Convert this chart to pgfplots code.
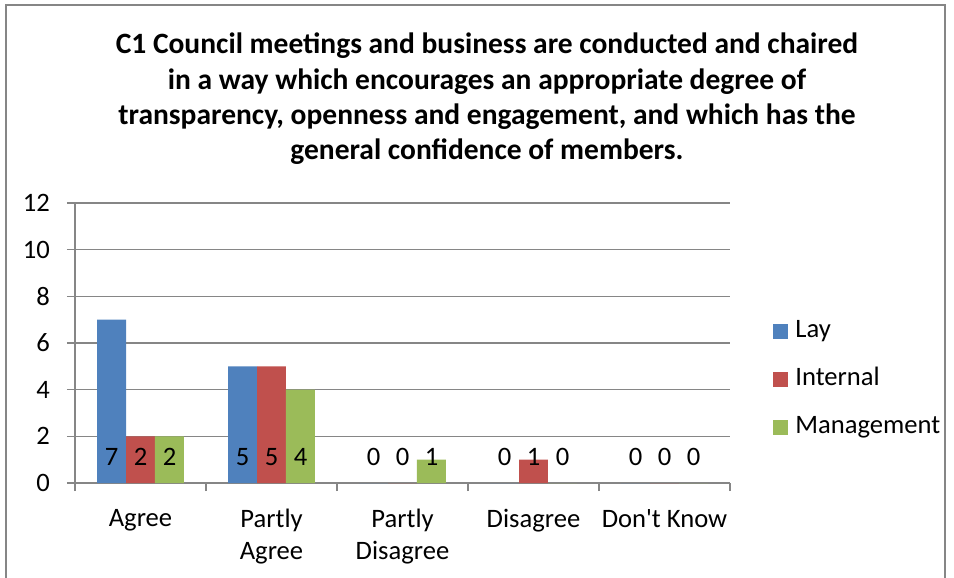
\documentclass[border=0pt]{standalone}
\usepackage{fontspec}
\setmainfont{Carlito}
\usepackage{pgfplots}
\pgfplotsset{compat=1.18}
\usepackage{pgfplotstable}

\definecolor{lay}{HTML}{4F81BD}
\definecolor{internal}{HTML}{C0504D}
\definecolor{mgmt}{HTML}{9BBB59}
\definecolor{gridgray}{HTML}{868686}

% pos = height (in axis units) where the value labels sit
\pgfplotstableread{
x lay internal mgmt pos
0 7 2 2 1.1
1 5 5 4 1.1
2 0 0 1 1.1
3 0 1 0 1.1
4 0 0 0 1.1
}\cone

\newcommand{\lblfont}{\fontsize{13.3}{16}\selectfont}

\begin{document}
\begin{tikzpicture}
\useasboundingbox (-37.5pt,-47.5pt) rectangle (439.5pt,241.5pt);
\begin{axis}[
	scale only axis,
	width=327.5pt, height=140pt,
	xmin=-0.5, xmax=4.5,
	ymin=0, ymax=12,
	ytick={0,2,...,12},
	xtick={-0.5,0.5,...,4.5},
	x tick label as interval,
	xticklabels={Agree,Partly\\Agree,Partly\\Disagree,Disagree,Don\textquotesingle t Know},
	xticklabel style={align=center, font=\lblfont, anchor=north, yshift=-5.5pt},
	yticklabel style={font=\lblfont, xshift=-5pt},
	/pgf/number format/assume math mode=true,
	axis x line*=bottom, axis y line*=left,
	axis line style={gridgray, line width=0.8pt, -},
	tick align=outside, major tick length=4pt,
	tick style={gridgray, line width=0.8pt},
	ymajorgrids, grid style={gridgray, line width=0.8pt},
	legend style={at={(1.0656,0.368)}, anchor=west, draw=none, fill=none,
		inner sep=0pt, row sep=12pt, font=\lblfont,
		nodes={inner sep=0pt, text height=9pt, text depth=3pt},
		/tikz/every odd column/.append style={column sep=3.5pt}},
	legend cell align=left,
	legend image code/.code={\fill[#1] (0pt,-3.75pt) rectangle (7.5pt,3.75pt);},
]
\addplot[ybar, bar width=0.221, bar shift=-0.221, fill=lay, draw=none] table[x=x, y=lay] {\cone};
\addplot[ybar, bar width=0.221, bar shift=0, fill=internal, draw=none] table[x=x, y=internal] {\cone};
\addplot[ybar, bar width=0.221, bar shift=0.221, fill=mgmt, draw=none] table[x=x, y=mgmt] {\cone};
\legend{Lay,Internal,Management}

% value labels, all at the same height near the base
\pgfplotsset{every node near coord/.append style={anchor=center, font=\lblfont, inner sep=0pt}}
\addplot[draw=none, fill=none, forget plot, mark=none,
	nodes near coords, point meta=explicit,
	every node near coord/.append style={xshift=-14.5pt}] table[x=x, y=pos, meta=lay] {\cone};
\addplot[draw=none, fill=none, forget plot, mark=none,
	nodes near coords, point meta=explicit] table[x=x, y=pos, meta=internal] {\cone};
\addplot[draw=none, fill=none, forget plot, mark=none,
	nodes near coords, point meta=explicit,
	every node near coord/.append style={xshift=14.5pt}] table[x=x, y=pos, meta=mgmt] {\cone};
\end{axis}

\node[align=center, font=\fontsize{14.75}{17.7}\selectfont\bfseries] at (206pt,192pt)
	{C1 Council meetings and business are conducted and chaired\\
	 in a way which encourages an appropriate degree of\\
	 transparency, openness and engagement, and which has the\\
	 general confidence of members.};

\draw[gridgray, line width=0.8pt] (-34.5pt,-60pt) -- (-34.5pt,239pt) -- (435pt,239pt) -- (435pt,-60pt);
\end{tikzpicture}
\end{document}
